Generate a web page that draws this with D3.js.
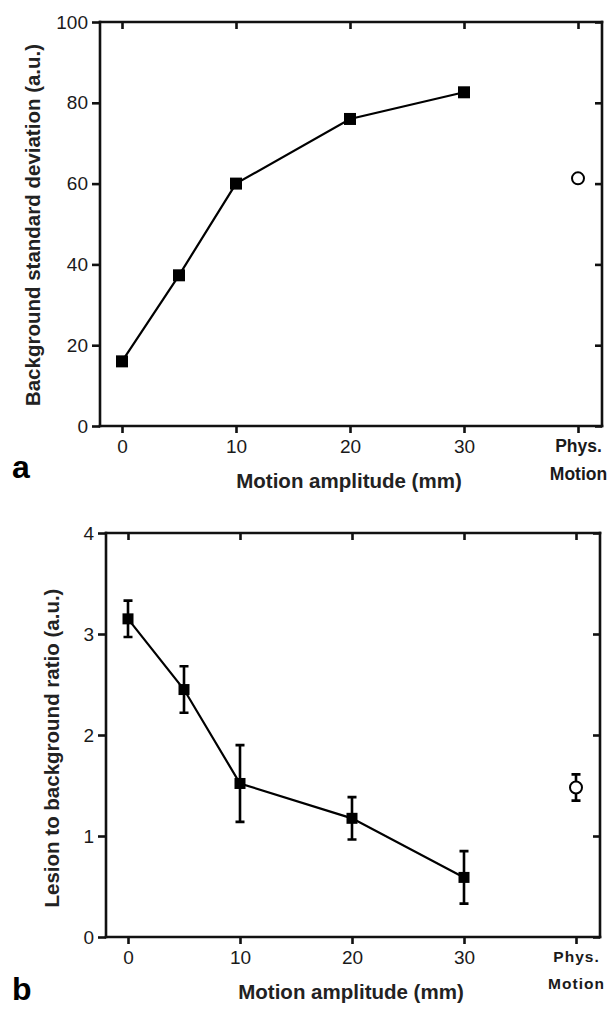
<!DOCTYPE html>
<html>
<head>
<meta charset="utf-8">
<script src="https://cdn.jsdelivr.net/npm/d3@7"></script>
<style>
  body { margin: 0; background: #fff; }
  svg { display: block; }
  text { font-family: "Liberation Sans", Arial, sans-serif; fill: #1a1a1a; }
</style>
</head>
<body>
<div id="chart"></div>
<script>
// x categories: 0..30 mm amplitudes, "Phys. Motion" placed at position 40
const amplitudes = [0, 5, 10, 20, 30];
const physX = 40;
const xTicks = [0, 10, 20, 30, 40];
const xTickLabels = ['0', '10', '20', '30', 'Phys.|Motion'];

// panel a: background standard deviation
const bgStd = [16.0, 37.3, 60.0, 76.0, 82.6];
const bgStdPhys = 61.3;
const yTicksA = [0, 20, 40, 60, 80, 100];

// panel b: lesion to background ratio (mean, +/- error)
const lbr = [3.15, 2.45, 1.52, 1.175, 0.59];
const lbrErr = [0.18, 0.23, 0.38, 0.21, 0.26];
const lbrPhys = 1.48;
const lbrPhysErr = 0.13;
const yTicksB = [0, 1, 2, 3, 4];

const svg = d3.select('#chart').append('svg')
  .attr('width', 613)
  .attr('height', 1011);

function drawPanel(p) {
  const g = svg.append('g');

  const x = d3.scaleLinear().domain([0, 40]).range([p.left + 22, p.right - 24]);
  const y = d3.scaleLinear().domain(p.yDomain).range([p.bottom, p.top]);

  // mirror axes (top / right) with inward ticks, no labels
  g.append('g')
    .attr('transform', `translate(0,${p.top})`)
    .call(d3.axisBottom(x).tickValues(xTicks).tickSize(7).tickSizeOuter(0).tickFormat(''))
    .call(a => a.select('.domain').attr('d', `M${p.left},0H${p.right}`));
  g.append('g')
    .attr('transform', `translate(${p.right},0)`)
    .call(d3.axisLeft(y).tickValues(p.yTicks).tickSize(7).tickSizeOuter(0).tickFormat(''))
    .call(a => a.select('.domain').attr('d', `M0,${p.top}V${p.bottom}`));

  // bottom axis
  const xa = g.append('g')
    .attr('transform', `translate(0,${p.bottom})`)
    .call(d3.axisBottom(x).tickValues(xTicks).tickSize(7).tickSizeOuter(0).tickPadding(7)
      .tickFormat((d, i) => xTickLabels[i]))
    .call(a => a.select('.domain').attr('d', `M${p.left},0H${p.right}`));
  xa.selectAll('.tick text')
    .style('font-size', '19px')
    .each(function (d, i) {
      const parts = xTickLabels[i].split('|');
      if (parts.length > 1) {
        const t = d3.select(this).text('').style('font-size', p.physSize).style('font-weight', 'bold')
          .style('letter-spacing', p.physSpacing);
        parts.forEach((s, k) => t.append('tspan').attr('x', 0).attr('dy', k === 0 ? '0.71em' : p.physGap).text(s));
      }
    });

  // left axis
  const ya = g.append('g')
    .attr('transform', `translate(${p.left},0)`)
    .call(d3.axisLeft(y).tickValues(p.yTicks).tickSize(8).tickSizeOuter(0).tickPadding(4)
      .tickFormat(d3.format('d')))
    .call(a => a.select('.domain').attr('d', `M0,${p.top}V${p.bottom}`));
  ya.selectAll('.tick text').style('font-size', '19px');

  g.selectAll('.domain, .tick line').attr('stroke', '#111').attr('stroke-width', 2.6);
  g.selectAll('.domain').attr('stroke-linecap', 'square');

  // axis titles
  g.append('text')
    .attr('x', (p.left + p.right) / 2 - 2)
    .attr('y', p.bottom + 62)
    .attr('text-anchor', 'middle')
    .style('font-size', '20.5px')
    .style('font-weight', 'bold')
    .style('fill', '#222')
    .text('Motion amplitude (mm)');
  g.append('text')
    .attr('transform', `translate(${p.yTitleX},${p.yTitleY}) rotate(-90)`)
    .attr('text-anchor', 'middle')
    .style('font-size', '20.5px')
    .style('font-weight', 'bold')
    .style('fill', '#222')
    .text(p.yTitle);

  // panel letter
  g.append('text')
    .attr('x', 12)
    .attr('y', p.letterY)
    .style('font-size', '32px')
    .style('font-weight', 'bold')
    .style('fill', '#000')
    .text(p.letter);

  // data line
  const pts = amplitudes.map((a, i) => [a, p.values[i]]);
  g.append('path')
    .datum(pts)
    .attr('fill', 'none')
    .attr('stroke', '#000')
    .attr('stroke-width', 2.2)
    .attr('d', d3.line().x(d => x(d[0])).y(d => y(d[1])));

  // error bars
  if (p.errors) {
    const eb = amplitudes.map((a, i) => ({ x: a, v: p.values[i], e: p.errors[i] }))
      .concat([{ x: physX, v: p.phys, e: p.physErr }]);
    const cap = 4.5;
    eb.forEach(d => {
      g.append('path')
        .attr('fill', 'none')
        .attr('stroke', '#000')
        .attr('stroke-width', 2.6)
        .attr('d', `M${x(d.x)},${y(d.v - d.e)}V${y(d.v + d.e)}` +
          `M${x(d.x) - cap},${y(d.v + d.e)}H${x(d.x) + cap}` +
          `M${x(d.x) - cap},${y(d.v - d.e)}H${x(d.x) + cap}`);
    });
  }

  // square markers
  const s = p.markerSize;
  g.selectAll('rect.pt')
    .data(pts)
    .join('rect')
    .attr('class', 'pt')
    .attr('x', d => x(d[0]) - s / 2)
    .attr('y', d => y(d[1]) - s / 2)
    .attr('width', s)
    .attr('height', s)
    .attr('fill', '#000');

  // physiological motion: open circle
  g.append('circle')
    .attr('cx', x(physX))
    .attr('cy', y(p.phys))
    .attr('r', 6)
    .attr('fill', '#fff')
    .attr('stroke', '#000')
    .attr('stroke-width', 2);
}

drawPanel({
  left: 100, right: 602, top: 22, bottom: 426,
  yDomain: [0, 100], yTicks: yTicksA,
  values: bgStd, phys: bgStdPhys,
  yTitle: 'Background standard deviation (a.u.)', yTitleX: 40, yTitleY: 225,
  letter: 'a', letterY: 478,
  markerSize: 12,
  physSize: '17.5px', physSpacing: '0px', physGap: '1.6em'
});

drawPanel({
  left: 106, right: 600, top: 533, bottom: 937,
  yDomain: [0, 4], yTicks: yTicksB,
  values: lbr, errors: lbrErr, phys: lbrPhys, physErr: lbrPhysErr,
  yTitle: 'Lesion to background ratio (a.u.)', yTitleX: 59, yTitleY: 748,
  letter: 'b', letterY: 1000,
  markerSize: 11,
  physSize: '15.5px', physSpacing: '1px', physGap: '1.75em'
});
</script>
</body>
</html>
